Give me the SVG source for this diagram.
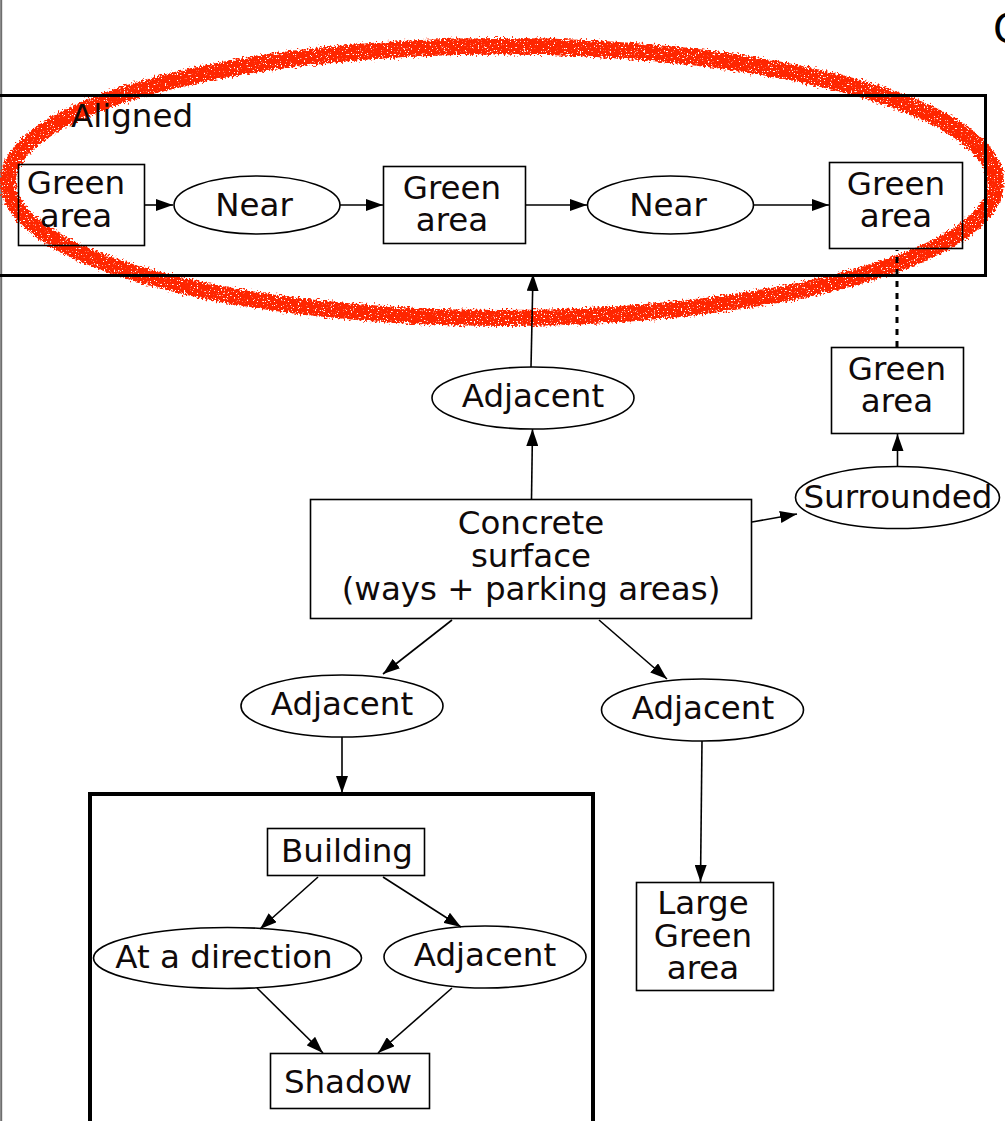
<svg xmlns="http://www.w3.org/2000/svg" width="1005" height="1121" viewBox="0 0 1005 1121">
  <defs>
    <style>
      .lbl { font-family: "DejaVu Sans", "Liberation Sans", sans-serif; font-size: 32.5px; fill: #100a0a; text-anchor: middle; }
      .node { fill: none; stroke: #000; stroke-width: 1.6; }
      .cluster { fill: none; stroke: #000; }
      .edge { fill: none; stroke: #000; stroke-width: 1.6; marker-end: url(#arrow); }
    </style>
    <marker id="arrow" markerUnits="userSpaceOnUse" markerWidth="17" markerHeight="12" refX="17" refY="6" orient="auto">
      <path d="M0,0 L17,6 L0,12 z" fill="#000"/>
    </marker>
    <filter id="rough" x="-3%" y="-10%" width="106%" height="120%">
      <feTurbulence type="fractalNoise" baseFrequency="0.5" numOctaves="3" seed="7" result="noise"/>
      <feDisplacementMap in="SourceGraphic" in2="noise" scale="9" xChannelSelector="R" yChannelSelector="G" result="shifted"/>
      <feTurbulence type="fractalNoise" baseFrequency="0.7" numOctaves="2" seed="2" result="speck"/>
      <feColorMatrix in="speck" type="matrix" values="0 0 0 0 0  0 0 0 0 0  0 0 0 0 0  0 0 0 -12 8.8" result="holes"/>
      <feComposite in="shifted" in2="holes" operator="in"/>
    </filter>
  </defs>

  <rect width="1005" height="1121" fill="#fff"/>

  <!-- left page edge -->
  <line x1="1.2" y1="0" x2="1.2" y2="1121" stroke="#6e6e6e" stroke-width="2"/>

  <!-- hand-drawn red highlight around the aligned group -->
  <g id="highlight" filter="url(#rough)">
    <ellipse cx="502" cy="182" rx="494" ry="136" fill="none" stroke="#ff2800" stroke-width="16"/>
    <ellipse cx="501" cy="184" rx="491" ry="134" fill="none" stroke="#ff2800" stroke-width="9"/>
  </g>

  <!-- partial title letter -->
  <text x="993" y="43" font-family="DejaVu Sans, sans-serif" font-size="41" fill="#000">C</text>

  <!-- clusters -->
  <g id="cluster-aligned">
    <rect class="cluster" x="-5" y="95.5" width="990.5" height="180" stroke-width="3"/>
    <text class="lbl" x="132" y="127">Aligned</text>
  </g>
  <g id="cluster-building">
    <rect class="cluster" x="90" y="794" width="503" height="340" stroke-width="4"/>
  </g>

  <!-- nodes -->
  <g id="green-area-1">
    <rect class="node" x="18.5" y="164.5" width="126" height="81"/>
    <text class="lbl" x="76" y="194">Green</text>
    <text class="lbl" x="76" y="227">area</text>
  </g>
  <g id="near-1">
    <ellipse class="node" cx="257" cy="205" rx="83" ry="29"/>
    <text class="lbl" x="254" y="216">Near</text>
  </g>
  <g id="green-area-2">
    <rect class="node" x="383.5" y="166.5" width="142" height="77"/>
    <text class="lbl" x="452" y="199">Green</text>
    <text class="lbl" x="452" y="231">area</text>
  </g>
  <g id="near-2">
    <ellipse class="node" cx="670.5" cy="205" rx="83" ry="29"/>
    <text class="lbl" x="668" y="216">Near</text>
  </g>
  <g id="green-area-3">
    <rect class="node" x="829.5" y="162.5" width="133" height="86"/>
    <text class="lbl" x="896" y="195">Green</text>
    <text class="lbl" x="896" y="227">area</text>
  </g>
  <g id="adjacent-top">
    <ellipse class="node" cx="533" cy="398" rx="101" ry="31"/>
    <text class="lbl" x="533" y="407">Adjacent</text>
  </g>
  <g id="green-area-right">
    <rect class="node" x="831.5" y="347.5" width="132" height="86"/>
    <text class="lbl" x="897" y="380">Green</text>
    <text class="lbl" x="897" y="412">area</text>
  </g>
  <g id="surrounded">
    <ellipse class="node" cx="897.5" cy="497.5" rx="102" ry="31"/>
    <text class="lbl" x="898" y="508">Surrounded</text>
  </g>
  <g id="concrete-surface">
    <rect class="node" x="310.5" y="499.5" width="441" height="119"/>
    <text class="lbl" x="531" y="534">Concrete</text>
    <text class="lbl" x="531" y="567">surface</text>
    <text class="lbl" x="531" y="600">(ways + parking areas)</text>
  </g>
  <g id="adjacent-left">
    <ellipse class="node" cx="342" cy="706" rx="101" ry="31"/>
    <text class="lbl" x="342" y="715">Adjacent</text>
  </g>
  <g id="adjacent-right">
    <ellipse class="node" cx="702.5" cy="710" rx="101" ry="31"/>
    <text class="lbl" x="703" y="719">Adjacent</text>
  </g>
  <g id="large-green-area">
    <rect class="node" x="636.5" y="882.5" width="137" height="108"/>
    <text class="lbl" x="703" y="914">Large</text>
    <text class="lbl" x="703" y="947">Green</text>
    <text class="lbl" x="703" y="979">area</text>
  </g>
  <g id="building">
    <rect class="node" x="267.5" y="828.5" width="157" height="47"/>
    <text class="lbl" x="347" y="862">Building</text>
  </g>
  <g id="at-a-direction">
    <ellipse class="node" cx="227.5" cy="958" rx="134" ry="30.5"/>
    <text class="lbl" x="224" y="968">At a direction</text>
  </g>
  <g id="adjacent-inner">
    <ellipse class="node" cx="485" cy="957" rx="101" ry="31"/>
    <text class="lbl" x="485" y="966">Adjacent</text>
  </g>
  <g id="shadow">
    <rect class="node" x="270.5" y="1053.5" width="159" height="55"/>
    <text class="lbl" x="348" y="1093">Shadow</text>
  </g>

  <!-- connectors -->
  <g id="edges">
    <line class="edge" x1="145" y1="205" x2="173" y2="205"/>
    <line class="edge" x1="340" y1="205" x2="383" y2="205"/>
    <line class="edge" x1="526" y1="205" x2="587" y2="205"/>
    <line class="edge" x1="754" y1="205" x2="829" y2="205"/>
    <line class="edge" x1="531" y1="367" x2="533" y2="274"/>
    <line class="edge" x1="531.5" y1="499" x2="532.5" y2="429"/>
    <line class="edge" x1="752" y1="522" x2="797" y2="514"/>
    <line class="edge" x1="897.5" y1="466" x2="897.5" y2="434"/>
    <line x1="897" y1="347" x2="897" y2="250" stroke="#000" stroke-width="3" stroke-dasharray="6,6"/>
    <line class="edge" x1="452" y1="620" x2="383" y2="674"/>
    <line class="edge" x1="599" y1="620" x2="667" y2="679"/>
    <line class="edge" x1="342" y1="737" x2="342" y2="793"/>
    <line class="edge" x1="702" y1="741" x2="700.5" y2="882"/>
    <line class="edge" x1="318" y1="877" x2="260" y2="929"/>
    <line class="edge" x1="383" y1="877" x2="461" y2="927"/>
    <line class="edge" x1="257" y1="988" x2="323" y2="1053"/>
    <line class="edge" x1="452" y1="988" x2="378" y2="1053"/>
  </g>
</svg>
